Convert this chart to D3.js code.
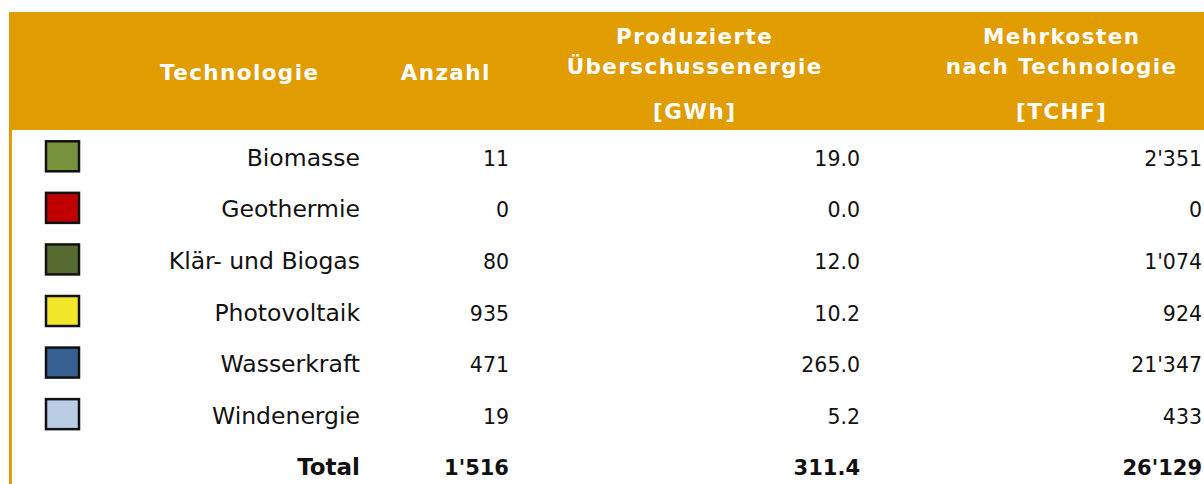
<!DOCTYPE html>
<html><head><meta charset="utf-8">
<script src="https://d3js.org/d3.v7.min.js"></script>
<style>body{margin:0;background:#fff}svg{display:block}</style>
</head><body>
<svg id="c" width="1204" height="484"></svg>
<script>
const technologies = ["Biomasse","Geothermie","Klär- und Biogas","Photovoltaik","Wasserkraft","Windenergie"];
const anzahl = ["11","0","80","935","471","19"];
const energieGWh = ["19.0","0.0","12.0","10.2","265.0","5.2"];
const mehrkostenTCHF = ["2'351","0","1'074","924","21'347","433"];
const swatchColors = ["#77933C","#C00000","#566B2F","#F2E62A","#376092","#B9CDE5"];
const totals = ["Total","1'516","311.4","26'129"];
const headers = [
  {lines:["Technologie"], unit:null},
  {lines:["Anzahl"], unit:null},
  {lines:["Produzierte","Überschussenergie"], unit:"[GWh]"},
  {lines:["Mehrkosten","nach Technologie"], unit:"[TCHF]"}
];

const svg = d3.select("#c");
const W = 1204, H = 484;
const orange = "#E19C00";
const font = "DejaVu Sans, Verdana, sans-serif";

svg.append("rect").attr("x",9).attr("y",12).attr("width",W-9).attr("height",118).attr("fill",orange);
svg.append("rect").attr("x",9).attr("y",130).attr("width",3).attr("height",H-130).attr("fill",orange);

const rowKeys = technologies.concat(["__total"]);
const y = d3.scaleBand().domain(rowKeys).range([131, 492]).paddingInner(0);
const base = d => y(d) + y.bandwidth()/2 + 9;

const colRight = [360, 509, 860, 1202];
const headCenter = [239, 445, 694, 1061];

const hls = 1.4;
const hg = svg.append("g").attr("font-family",font).attr("font-weight","bold").attr("fill","#fff")
  .attr("font-size","21.5px").attr("text-anchor","middle").attr("letter-spacing",hls+"px");
headers.forEach((h,i)=>{
  const cx = headCenter[i] + hls/2;
  if (h.lines.length===1) {
    hg.append("text").attr("x",cx).attr("y",80).text(h.lines[0]);
  } else {
    h.lines.forEach((l,j)=>hg.append("text").attr("x",cx).attr("y",44+j*30).text(l));
  }
  if (h.unit) hg.append("text").attr("x",cx).attr("y",119).text(h.unit);
});

svg.append("g").selectAll("rect").data(technologies).join("rect")
  .attr("x",46).attr("y",d=>y(d)+y.bandwidth()/2-15.5)
  .attr("width",33).attr("height",30)
  .attr("fill",(d,i)=>swatchColors[i]).attr("stroke","#111").attr("stroke-width",2.5);

const cols = [technologies, anzahl, energieGWh, mehrkostenTCHF];
const colSize = [23.5, 20.5, 20.5, 20.5];
const bg = svg.append("g").attr("font-family",font).attr("fill","#111").attr("text-anchor","end");
cols.forEach((arr,ci)=>{
  bg.selectAll(null).data(arr).join("text")
    .attr("x",colRight[ci]).attr("y",(d,i)=>base(technologies[i]))
    .attr("font-size",colSize[ci]+"px")
    .text(d=>d);
});
const totSize = [23, 21, 21, 21];
const tg = svg.append("g").attr("font-family",font).attr("font-weight","bold").attr("fill","#111").attr("text-anchor","end");
totals.forEach((t,ci)=>{
  tg.append("text").attr("x",colRight[ci]).attr("y",base("__total"))
    .attr("font-size",totSize[ci]+"px").text(t);
});
</script>
</body></html>
